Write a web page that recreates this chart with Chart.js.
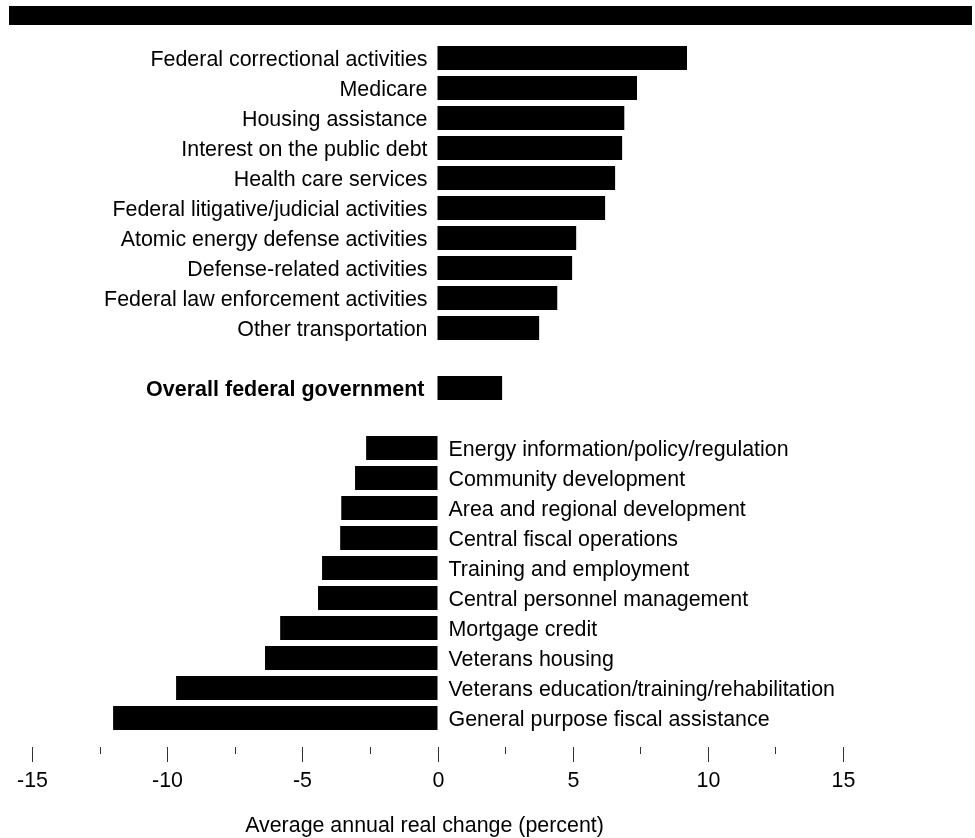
<!DOCTYPE html>
<html>
<head>
<meta charset="utf-8">
<script src="https://cdn.jsdelivr.net/npm/chart.js@4/dist/chart.umd.min.js"></script>
<style>
  html, body { margin: 0; padding: 0; background: #fff; }
  #wrap { position: relative; width: 975px; height: 838px; }
</style>
</head>
<body>
<div id="wrap"><canvas id="c" width="975" height="838"></canvas></div>
<script>
const categories = [
  "Federal correctional activities",
  "Medicare",
  "Housing assistance",
  "Interest on the public debt",
  "Health care services",
  "Federal litigative/judicial activities",
  "Atomic energy defense activities",
  "Defense-related activities",
  "Federal law enforcement activities",
  "Other transportation",
  "",
  "Overall federal government",
  " ",
  "Energy information/policy/regulation",
  "Community development",
  "Area and regional development",
  "Central fiscal operations",
  "Training and employment",
  "Central personnel management",
  "Mortgage credit",
  "Veterans housing",
  "Veterans education/training/rehabilitation",
  "General purpose fiscal assistance"
];
const values = [
  9.23, 7.38, 6.91, 6.83, 6.57, 6.20, 5.13, 4.98, 4.43, 3.76,
  null,
  2.39,
  null,
  -2.64, -3.05, -3.56, -3.60, -4.27, -4.42, -5.82, -6.38, -9.67, -12.0
];
const boldCategory = "Overall federal government";
const tickValues = [-15, -12.5, -10, -7.5, -5, -2.5, 0, 2.5, 5, 7.5, 10, 12.5, 15];
const tickLabels = ["-15", "", "-10", "", "-5", "", "0", "", "5", "", "10", "", "15"];
const axisTitle = "Average annual real change (percent)";

const FONT = '"Liberation Sans", Arial, Helvetica, sans-serif';

const decor = {
  id: 'decor',
  beforeDraw(chart) {
    const ctx = chart.ctx;
    ctx.save();
    ctx.fillStyle = '#fff';
    ctx.fillRect(0, 0, chart.width, chart.height);
    ctx.fillStyle = '#000';
    ctx.fillRect(9, 6, 963, 19);
    ctx.restore();
  },
  afterDraw(chart) {
    const ctx = chart.ctx;
    const xs = chart.scales.x, ys = chart.scales.y;
    const x0 = xs.getPixelForValue(0);
    ctx.save();
    ctx.fillStyle = '#000';
    ctx.textBaseline = 'alphabetic';
    categories.forEach((cat, i) => {
      const v = values[i];
      if (v === null || v === undefined) return;
      const y = ys.getPixelForValue(i) + 8;
      const bold = cat === boldCategory;
      ctx.font = (bold ? 'bold 21.5px ' : '21.4px ') + FONT;
      if (v >= 0) {
        ctx.textAlign = 'right';
        ctx.fillText(cat, x0 - (bold ? 13 : 10), y);
      } else {
        ctx.textAlign = 'left';
        ctx.fillText(cat, x0 + 11, y);
      }
    });
    // ticks
    ctx.strokeStyle = '#333';
    ctx.lineWidth = 1;
    tickValues.forEach((t, i) => {
      const px = Math.round(xs.getPixelForValue(t)) + 0.5;
      const major = tickLabels[i] !== '';
      ctx.beginPath();
      ctx.moveTo(px, 747);
      ctx.lineTo(px, major ? 762 : 754);
      ctx.stroke();
      if (major) {
        ctx.font = '21.4px ' + FONT;
        ctx.textAlign = 'center';
        ctx.fillText(tickLabels[i], px, 787);
      }
    });
    ctx.font = '21.4px ' + FONT;
    ctx.textAlign = 'center';
    ctx.fillText(axisTitle, (chart.chartArea.left + chart.chartArea.right) / 2 - 13, 832);
    ctx.restore();
  }
};

new Chart(document.getElementById('c'), {
  type: 'bar',
  data: {
    labels: categories,
    datasets: [{
      data: values,
      backgroundColor: '#000',
      borderWidth: 0,
      barPercentage: 0.8,
      categoryPercentage: 1.0
    }]
  },
  options: {
    indexAxis: 'y',
    responsive: false,
    devicePixelRatio: 1,
    animation: false,
    layout: { padding: { left: 32, right: 132, top: 43, bottom: 105 } },
    plugins: { legend: { display: false }, tooltip: { enabled: false } },
    scales: {
      x: { type: 'linear', min: -15, max: 15, display: false },
      y: { display: false }
    }
  },
  plugins: [decor]
});
</script>
</body>
</html>
